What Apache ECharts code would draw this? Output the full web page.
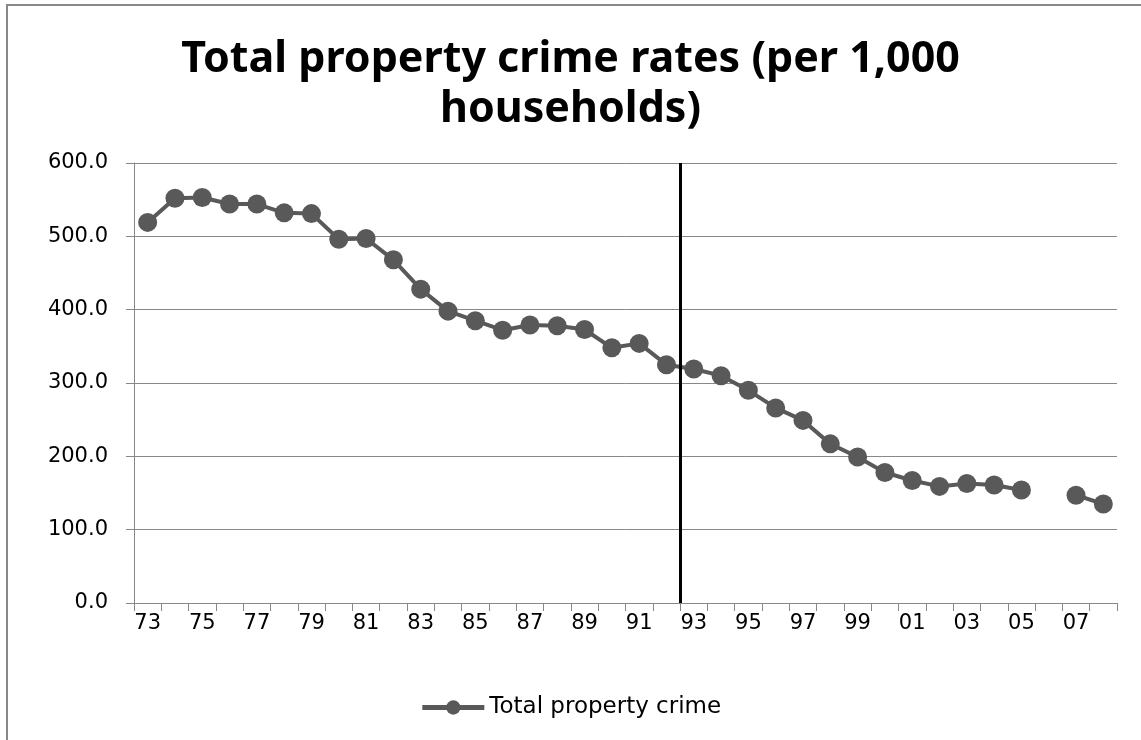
<!DOCTYPE html>
<html>
<head>
<meta charset="utf-8">
<script src="https://cdn.jsdelivr.net/npm/echarts@6/dist/echarts.min.js"></script>
<style>
  html, body { margin: 0; padding: 0; background: #fff; }
  #chart { width: 1141px; height: 740px; }
  #frame {
    position: absolute; left: 6px; top: 4px; right: 0; bottom: 0;
    border-left: 2px solid #888; border-top: 2px solid #888;
    pointer-events: none;
  }
</style>
</head>
<body>
<div id="chart"></div>
<div id="frame"></div>
<script>
// years 1973-2008, two-digit labels
const years = ['73','74','75','76','77','78','79','80','81','82','83','84','85','86','87','88','89','90',
  '91','92','93','94','95','96','97','98','99','00','01','02','03','04','05','06','07','08'];
// per 1,000 households; 2006 not reported
const propertyCrime = [519, 552, 553, 544, 544, 532, 531, 496, 497, 468, 428, 398, 385, 372, 379, 378, 373, 348,
  354, 325, 319, 310, 290, 266, 249, 217, 199, 178, 167, 159, 163, 161, 154, null, 147, 135];
const yTicks = { min: 0, max: 600, interval: 100 };
// divider drawn on the boundary between 92 and 93 (category slot 20)
const dividerSlot = 20;

const chart = echarts.init(document.getElementById('chart'), null, { renderer: 'canvas' });
const font = 'DejaVu Sans';

chart.setOption({
  backgroundColor: '#fff',
  animation: false,
  title: {
    text: 'Total property crime rates (per 1,000\nhouseholds)',
    left: 'center',
    top: 30,
    textStyle: { fontFamily: 'Noto Sans', fontWeight: 'bold', fontSize: 43, lineHeight: 50, color: '#000' }
  },
  grid: { left: 134, right: 24, top: 163, bottom: 137 },
  legend: {
    bottom: 16,
    left: 'center',
    itemWidth: 62,
    itemHeight: 18,
    itemGap: 3,
    lineStyle: { width: 5 },
    textStyle: { fontFamily: font, fontSize: 23, color: '#000' },
    data: ['Total property crime']
  },
  xAxis: [{
    type: 'category',
    data: years,
    boundaryGap: true,
    axisLine: { lineStyle: { color: '#888', width: 1 } },
    axisTick: { show: true, interval: 0, length: 8, lineStyle: { color: '#888' } },
    axisLabel: { interval: 1, margin: 10, fontFamily: font, fontSize: 21, color: '#000' },
    splitLine: { show: false }
  }, {
    type: 'value',
    min: 0,
    max: years.length,
    show: false
  }],
  yAxis: {
    type: 'value',
    min: yTicks.min,
    max: yTicks.max,
    interval: yTicks.interval,
    axisLine: { show: true, lineStyle: { color: '#888', width: 1 } },
    axisTick: { show: true, length: 8, lineStyle: { color: '#888' } },
    axisLabel: { margin: 26, fontFamily: font, fontSize: 21, color: '#000', formatter: v => v.toFixed(1) },
    splitLine: { show: true, lineStyle: { color: '#888', width: 1 } }
  },
  series: [{
    name: 'Total property crime',
    type: 'line',
    data: propertyCrime,
    connectNulls: false,
    showAllSymbol: true,
    symbol: 'circle',
    symbolSize: 19,
    lineStyle: { color: '#595959', width: 4 },
    itemStyle: { color: '#595959' }
  }, {
    name: 'divider',
    type: 'line',
    xAxisIndex: 1,
    data: [],
    markLine: {
      silent: true,
      symbol: 'none',
      label: { show: false },
      lineStyle: { color: '#000', width: 3, type: 'solid' },
      data: [{ xAxis: dividerSlot }]
    }
  }]
});
</script>
</body>
</html>
